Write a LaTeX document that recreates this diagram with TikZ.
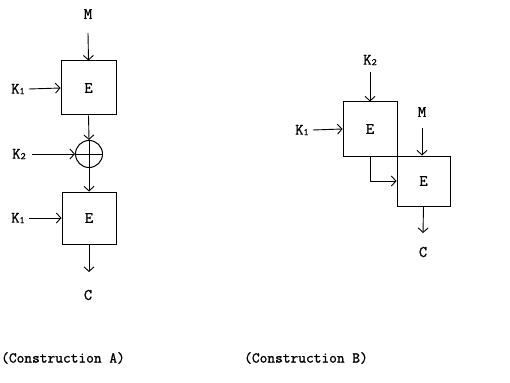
\documentclass[tikz,border=0pt]{standalone}
\usepackage{fontspec}
\setmonofont{Latin Modern Mono}[FakeBold=1.2]
\usetikzlibrary{arrows.meta}
\newcommand{\sbs}[1]{\raisebox{-0.5pt}{\fontsize{10}{10}\selectfont #1}}
\begin{document}
\begin{tikzpicture}[x=1pt,y=-1pt,
  lbl/.style={font=\ttfamily\fontsize{16}{16}\selectfont, inner sep=0pt},
  captxt/.style={font=\ttfamily\fontsize{15}{15}\selectfont, inner sep=0pt},
  blk/.style={draw, line width=1pt, minimum width=55pt, minimum height=54pt, inner sep=0pt, font=\ttfamily\fontsize{16}{16}\selectfont},
  xorn/.style={draw, circle, line width=1pt, minimum size=27pt, inner sep=0pt},
  arr/.style={-{Straight Barb[length=4.5pt,width=10pt]}, line width=0.9pt},
  ln/.style={line width=0.9pt}]
\useasboundingbox (0,0) rectangle (510,382);
% Construction A
\node[lbl] (mA) at (88,14) {M};
\node[blk] (A1) at (88.5,88) {E};
\node[lbl] (k1a) at (18,89) {K\sbs{1}};
\node[xorn] (x) at (89,154) {};
\draw[ln] (x.north) -- (x.south) (x.west) -- (x.east);
\node[lbl] (k2a) at (19,154) {K\sbs{2}};
\node[blk, minimum height=52pt, minimum width=54pt] (A2) at (89,218) {E};
\node[lbl] (k1b) at (18,218) {K\sbs{1}};
\node[lbl] (cA) at (88,295) {C};
\coordinate (mAs) at (88,33);
\coordinate (cAe) at (89,272);
\draw[arr] (mAs) -- (A1.north);
\draw[arr] ([xshift=4pt]k1a.east) -- (A1.west);
\draw[arr] (A1.south) -- (x.north);
\draw[arr] ([xshift=6pt]k2a.east) -- (x.west);
\draw[arr] (x.south) -- (A2.north);
\draw[arr] ([xshift=4pt]k1b.east) -- (A2.west);
\draw[arr] (A2.south) -- (cAe);
% Construction B
\node[lbl] (k2B) at (370,60) {K\sbs{2}};
\node[blk, minimum width=54pt] (B1) at (370,129) {E};
\node[lbl] (k1B) at (302,130) {K\sbs{1}};
\node[lbl] (mB) at (422,112) {M};
\node[blk, minimum width=53pt, minimum height=50pt] (B2) at (423.5,181) {E};
\node[lbl] (cB) at (423,252) {C};
\coordinate (k2Bs) at (370,72);
\coordinate (mBs) at (422,128);
\coordinate (cBe) at (423,233);
\draw[arr] (k2Bs) -- (B1.north);
\draw[arr] ([xshift=4pt]k1B.east) -- (B1.west);
\draw[arr] (mBs) -- (mBs |- B2.north);
\draw[arr] (B1.south) |- (B2.west);
\draw[arr] (B2.south) -- (cBe);
% captions
\node[captxt] (capA) at (63,358) {(Construction A)};
\node[captxt] (capB) at (306,358) {(Construction B)};
\end{tikzpicture}
\end{document}
